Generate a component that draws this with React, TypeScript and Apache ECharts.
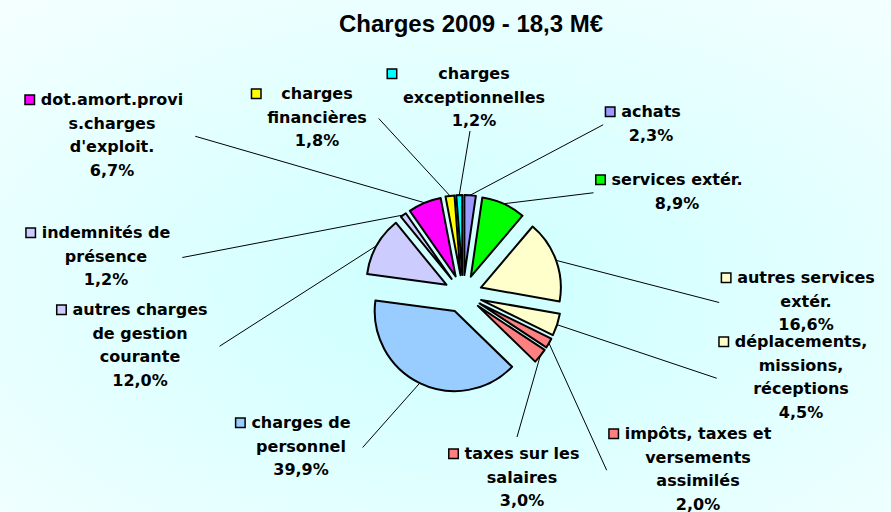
import React, { useEffect, useRef } from 'react';
import * as echarts from 'echarts';

// ---------- data ----------
const chartTitle = 'Charges 2009 - 18,3 M€';
const categories = [
  'achats',
  'services extér.',
  'autres services extér.',
  'déplacements, missions, réceptions',
  'impôts, taxes et versements assimilés',
  'taxes sur les salaires',
  'charges de personnel',
  'autres charges de gestion courante',
  'indemnités de présence',
  "dot.amort.provis.charges d'exploit.",
  'charges financières',
  'charges exceptionnelles',
];
const shares = [2.3, 8.9, 16.6, 4.5, 2.0, 3.0, 39.9, 12.0, 1.2, 6.7, 1.8, 1.2];
const labelTextLines = [
  ['achats'],
  ['services extér.'],
  ['autres services', 'extér.'],
  ['déplacements,', 'missions,', 'réceptions'],
  ['impôts, taxes et', 'versements', 'assimilés'],
  ['taxes sur les', 'salaires'],
  ['charges de', 'personnel'],
  ['autres charges', 'de gestion', 'courante'],
  ['indemnités de', 'présence'],
  ['dot.amort.provi', 's.charges', "d'exploit."],
  ['charges', 'financières'],
  ['charges', 'exceptionnelles'],
];
const sliceColors = [
  '#9999ff', '#00ff00', '#ffffcc', '#ffffcc', '#ff8080', '#ff8080',
  '#99ccff', '#ccccff', '#ccccff', '#ff00ff', '#ffff00', '#00ffff',
];

// ---------- layout ----------
const CENTER: [number, number] = [463, 294];
const RADIUS = 80;
const EXPLODE = 19;
const FONT = '"DejaVu Sans", sans-serif';
const FS = 16;
const LH = 23.5;
const SQ = 8;
const GAP = 7;
const BASE_OFF = 17; // label top -> first baseline
// [text centre x, first-line baseline, side where leader line attaches]
const labelAnchors: [number, number, string][] = [
  [651, 117, 'r'],
  [677, 185, 'r'],
  [806, 283, 'r'],
  [801, 347, 'r'],
  [698, 439, 'r'],
  [522, 459, 'b'],
  [301, 428, 'l'],
  [140, 315, 'l'],
  [106, 238, 'l'],
  [112, 105, 'l'],
  [317, 99, 'l'],
  [474, 79, 't'],
];

const fmtPct = (v: number) => v.toFixed(1).replace('.', ',') + '%';

export default function App() {
  const ref = useRef<HTMLDivElement>(null);
  useEffect(() => {
    if (!ref.current) return;
    const chart = echarts.init(ref.current, undefined, { renderer: 'svg' });

    const ctx = document.createElement('canvas').getContext('2d')!;
    ctx.font = `bold ${FS}px "DejaVu Sans"`;
    const maxW = labelTextLines.map((ls, i) =>
      Math.max(...ls.map((l) => ctx.measureText(l).width), ctx.measureText(fmtPct(shares[i])).width)
    );

    const total = shares.reduce((a, b) => a + b, 0);
    const midAngles: number[] = [];
    let acc = 0;
    shares.forEach((v) => {
      midAngles.push(((acc + v / 2) / total) * Math.PI * 2);
      acc += v;
    });

    const rich: Record<string, any> = {
      t: { fontFamily: FONT, fontWeight: 'bold', fontSize: FS, lineHeight: LH, color: '#000' },
      gp: { width: GAP, height: SQ, lineHeight: LH },
      sp: { width: SQ + GAP, height: SQ, lineHeight: LH },
    };
    shares.forEach((_, i) => {
      rich['s' + i] = {
        width: SQ, height: SQ, lineHeight: LH,
        backgroundColor: sliceColors[i], borderColor: '#000', borderWidth: 1.5,
      };
      rich['w' + i] = {
        width: maxW[i], align: 'center',
        fontFamily: FONT, fontWeight: 'bold', fontSize: FS, lineHeight: LH, color: '#000',
      };
    });

    const formatter = (p: any) => {
      const i = p.dataIndex;
      const ls = labelTextLines[i];
      const rows = [`{s${i}|}{gp|}{w${i}|${ls[0]}}{sp|}`];
      for (let k = 1; k < ls.length; k++) rows.push(`{t|${ls[k]}}`);
      rows.push(`{t|${fmtPct(shares[i])}}`);
      return rows.join('\n');
    };

    const labelLayout = (params: any) => {
      const i = params.dataIndex;
      const [cx, base, side] = labelAnchors[i];
      const n = labelTextLines[i].length + 1;
      const top = base - BASE_OFF;
      const visTop = base - 12;
      const visBot = base + (n - 1) * LH + 4;
      const midY = (visTop + visBot) / 2;
      const a = midAngles[i];
      const sx = CENTER[0] + (RADIUS + EXPLODE) * Math.sin(a);
      const sy = CENTER[1] - (RADIUS + EXPLODE) * Math.cos(a);
      let ex = cx, ey = midY;
      if (side === 'l') { ex = cx + maxW[i] / 2 + 12; ey = midY; }
      else if (side === 'r') { ex = cx - maxW[i] / 2 - SQ - GAP - 3; ey = midY; }
      else if (side === 't') { ex = cx - 4; ey = visBot + 1; }
      else { ex = cx - 5; ey = visTop - 10; }
      return {
        x: cx,
        y: top,
        align: 'center',
        verticalAlign: 'top',
        labelLinePoints: [[sx, sy], [sx, sy], [ex, ey]],
      };
    };

    // one pie series per exploded slice; every series lays out all values,
    // only its own slice is painted, shifted outward along its mid-angle
    const series = shares.map((_, k) => ({
      type: 'pie',
      center: [
        CENTER[0] + EXPLODE * Math.sin(midAngles[k]),
        CENTER[1] - EXPLODE * Math.cos(midAngles[k]),
      ],
      radius: RADIUS,
      startAngle: 90,
      clockwise: true,
      avoidLabelOverlap: false,
      silent: true,
      emphasis: { disabled: true },
      label: {
        show: true,
        position: 'outer',
        formatter,
        rich,
        align: 'center',
        color: '#000',
        fontFamily: FONT,
        fontWeight: 'bold',
        fontSize: FS,
        lineHeight: LH,
      },
      labelLine: { show: true, length: 5, length2: 5, smooth: false, lineStyle: { color: '#000', width: 1 } },
      labelLayout,
      data: categories.map((name, i) =>
        i === k
          ? { name, value: shares[i], itemStyle: { color: sliceColors[i], borderColor: '#000', borderWidth: 2 } }
          : {
              name,
              value: shares[i],
              itemStyle: { color: 'rgba(0,0,0,0)', borderWidth: 0 },
              label: { show: false },
              labelLine: { show: false },
            }
      ),
    }));

    chart.setOption({
      animation: false,
      backgroundColor: {
        type: 'radial',
        x: CENTER[0] / 891,
        y: CENTER[1] / 512,
        r: 0.95,
        colorStops: [
          { offset: 0, color: '#ccffff' },
          { offset: 1, color: '#ffffff' },
        ],
      },
      title: {
        text: chartTitle,
        left: 334,
        top: 6,
        textStyle: { fontFamily: '"Liberation Sans", Arial', fontWeight: 'bold', fontSize: 24, color: '#000' },
      },
      series,
    });
    return () => chart.dispose();
  }, []);
  return <div ref={ref} style={{ position: 'absolute', left: 0, top: 0, width: 891, height: 512 }} />;
}
